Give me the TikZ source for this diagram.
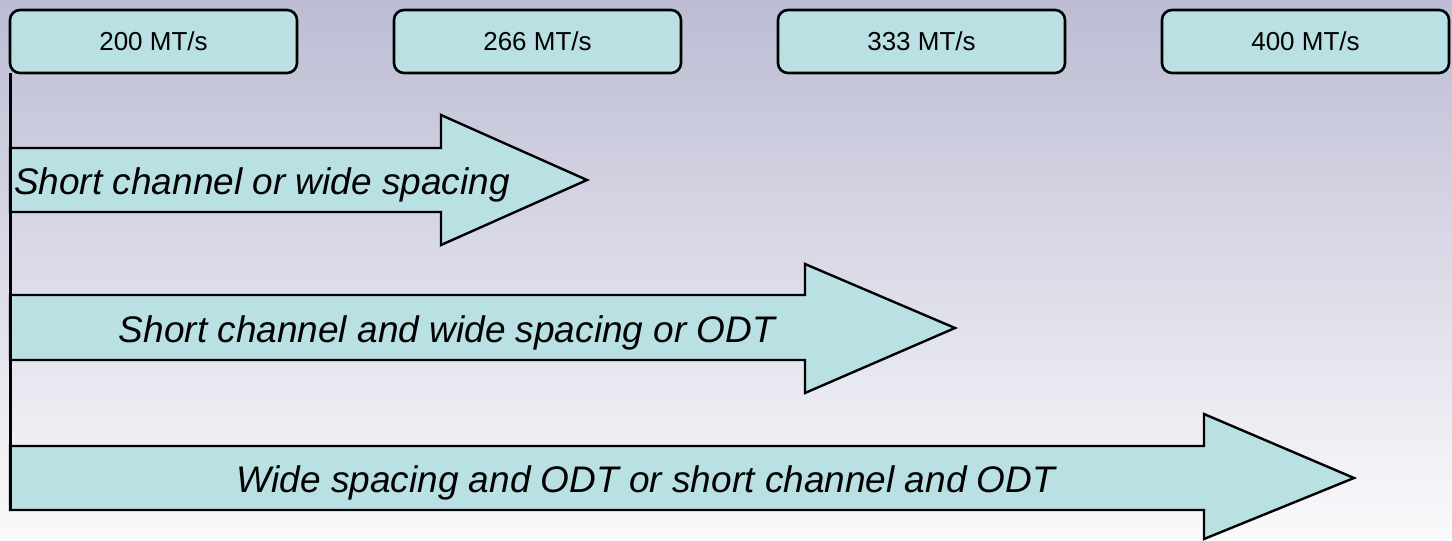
\documentclass[tikz,border=0pt]{standalone}
\usepackage{fontspec}
\setmainfont{Liberation Sans}
\begin{document}
\begin{tikzpicture}[x=1pt,y=-1pt,
  rate/.style={draw=black, line width=2.6pt, rounded corners=10pt, fill=cyanfill,
    minimum width=287pt, minimum height=63pt, inner sep=0pt, font=\fontsize{26}{30}\selectfont},
  band/.style={draw=black, line width=2.4pt, fill=cyanfill, line join=miter},
  axis/.style={line width=3pt},
  caption/.style={font=\fontsize{37}{42}\selectfont\itshape, inner sep=0pt, anchor=base}]
\definecolor{cyanfill}{RGB}{185,224,227}
\definecolor{bgtop}{RGB}{188,188,212}
\definecolor{bgbot}{RGB}{250,250,252}
% backdrop with vertical shading
\shade[top color=bgtop, bottom color=bgbot] (0,0) rectangle (1452,541);
\useasboundingbox (0,0) rectangle (1452,541);

% rate boxes
\node[rate] (b200) at (153.5,41.5) {200 MT/s};
\node[rate] (b266) at (537.5,41.5) {266 MT/s};
\node[rate] (b333) at (921.5,41.5) {333 MT/s};
\node[rate] (b400) at (1305.5,41.5) {400 MT/s};

% block arrows
\draw[band] (10,148) -- (441,148) -- (441,115) -- (587,180) -- (441,245) -- (441,212) -- (10,212) -- cycle;
\draw[band] (10,295) -- (805,295) -- (805,264) -- (955,328) -- (805,393) -- (805,360) -- (10,360) -- cycle;
\draw[band] (10,446) -- (1204,446) -- (1204,414) -- (1354,478) -- (1204,539) -- (1204,510) -- (10,510) -- cycle;

% baseline axis from the first rate box down to the last arrow
\coordinate (axistop) at (10,73);
\coordinate (axisend) at (10,511);
\draw[axis] (axistop) -- (axisend);

% captions
\node[caption] (c1) at (262,194) {Short channel or wide spacing};
\node[caption] (c2) at (447,342) {Short channel and wide spacing or ODT};
\node[caption] (c3) at (646,492) {Wide spacing and ODT or short channel and ODT};
\end{tikzpicture}
\end{document}
